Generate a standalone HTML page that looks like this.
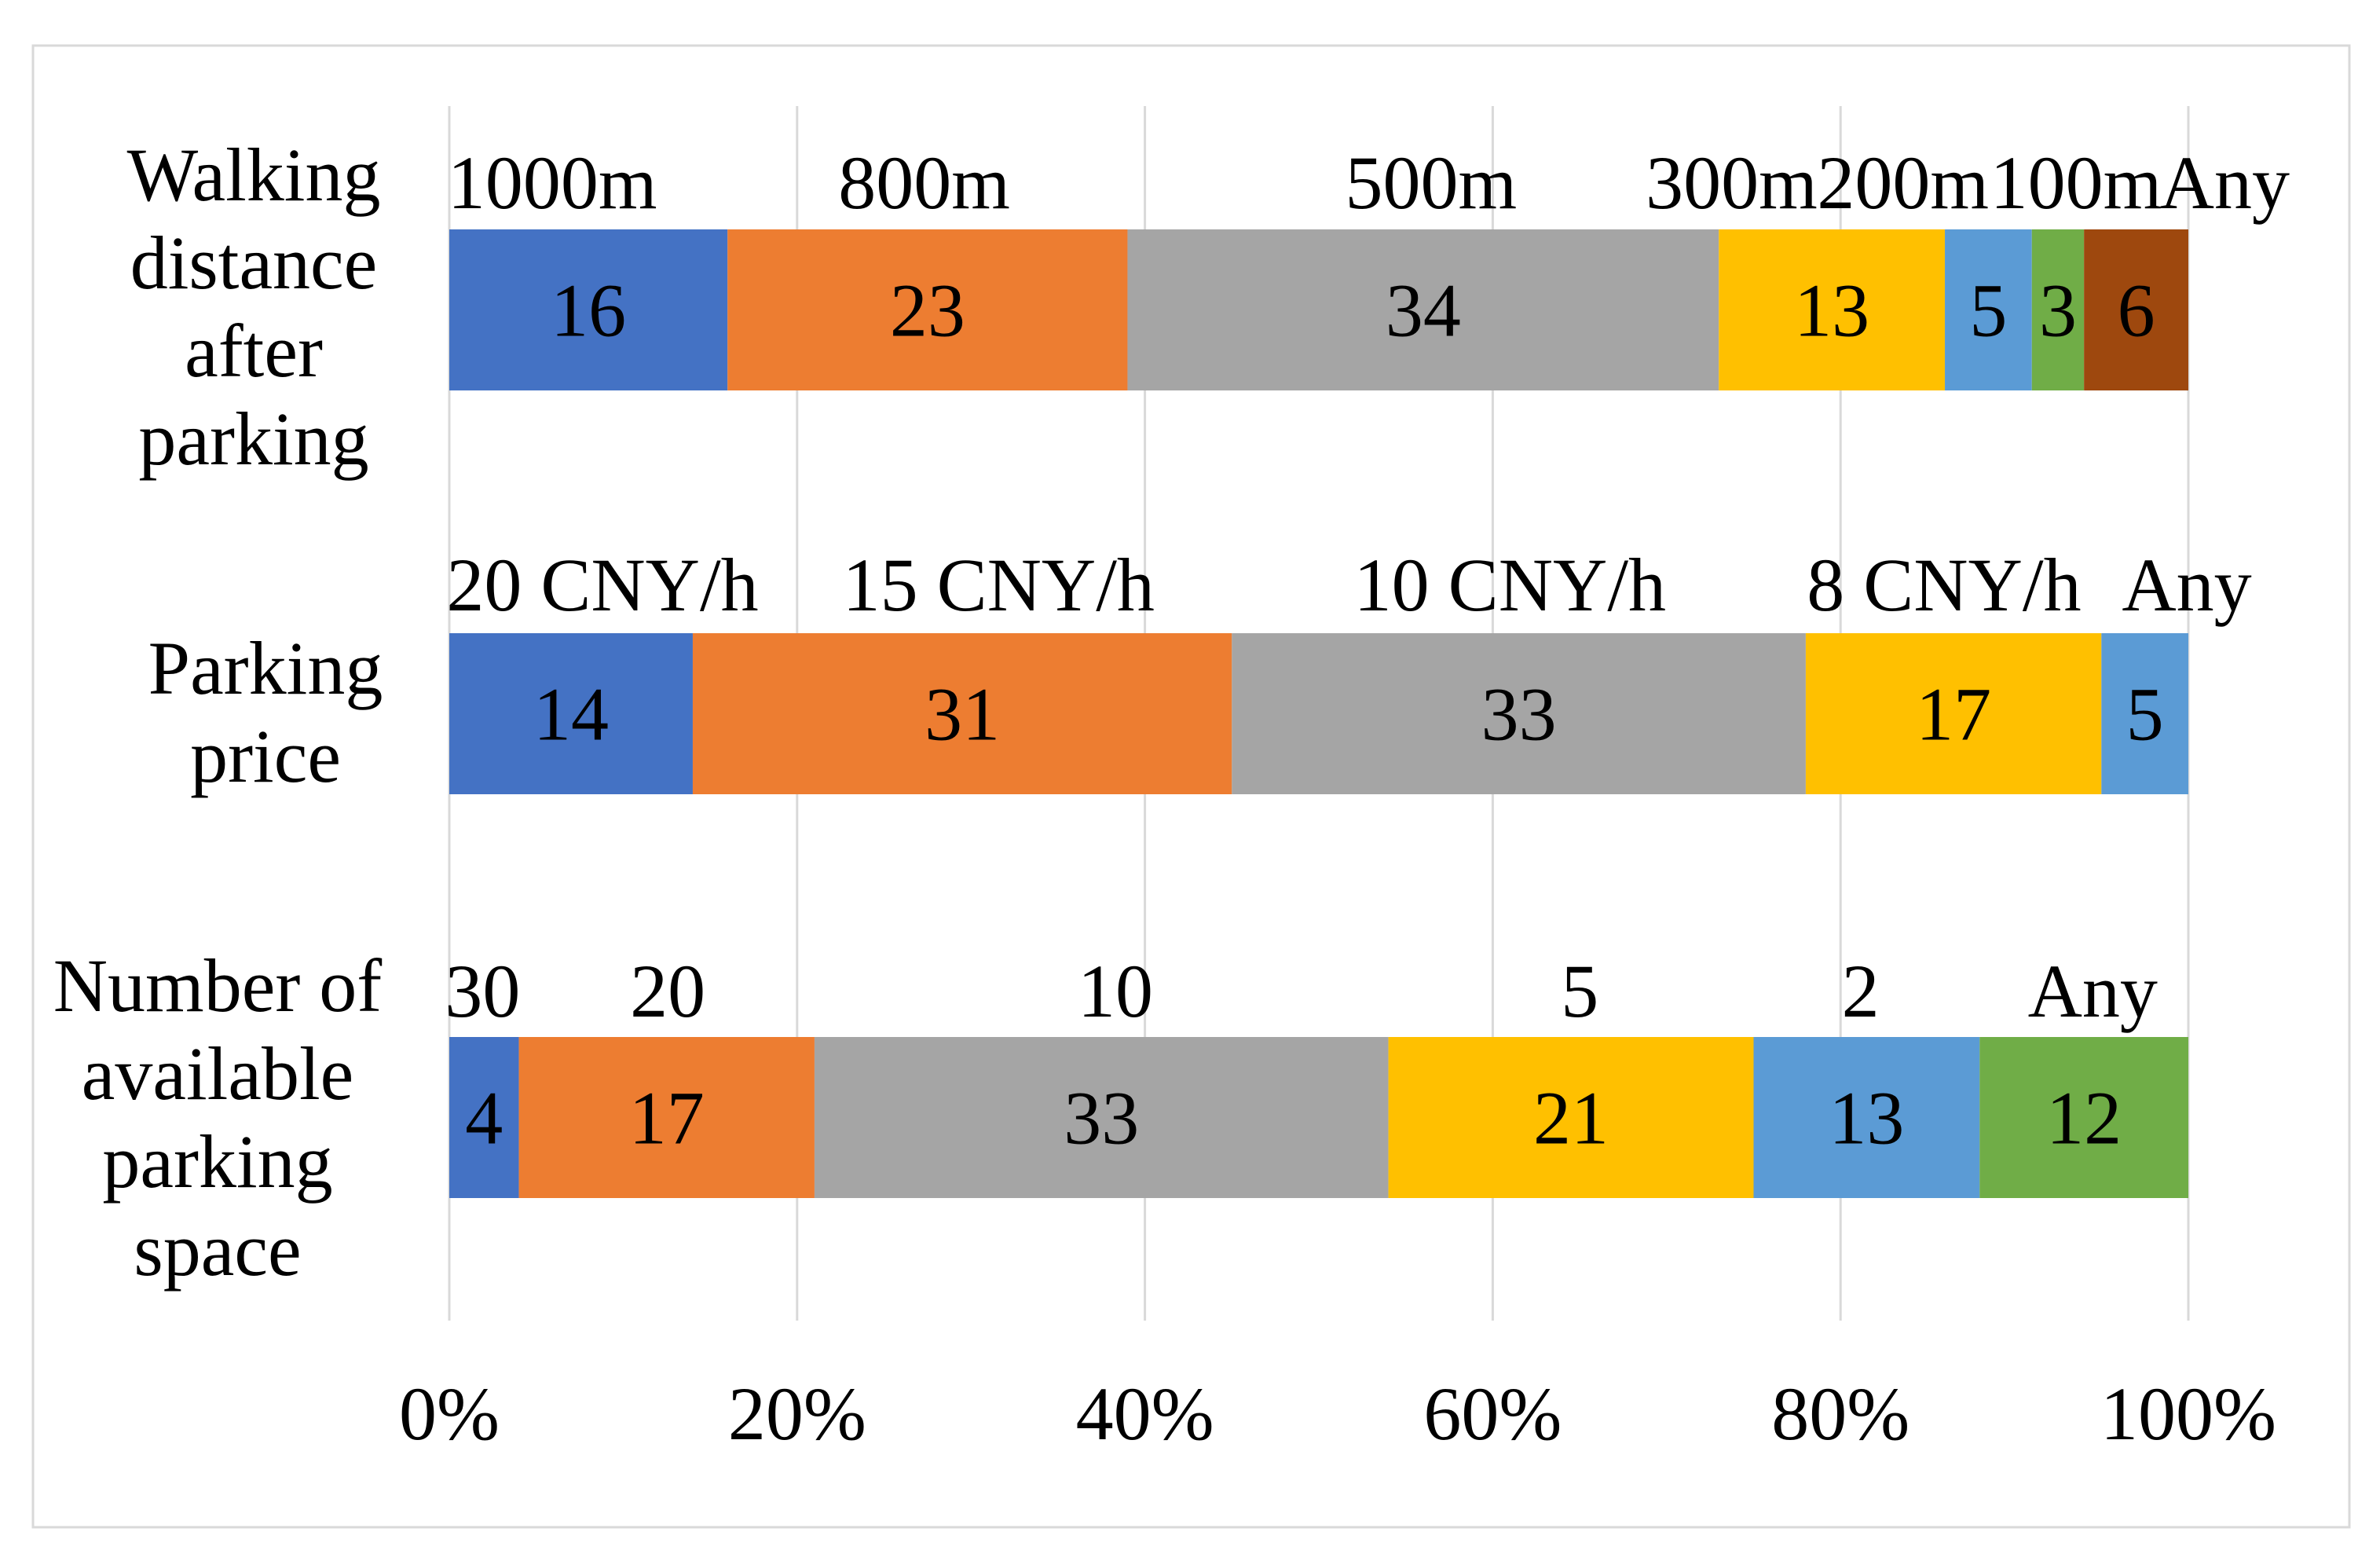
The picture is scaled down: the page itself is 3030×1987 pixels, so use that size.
<!DOCTYPE html>
<html><head><meta charset="utf-8"><style>
html,body{margin:0;padding:0;background:#fff;}
svg text{font-family:"Liberation Serif",serif;font-size:96px;fill:#000;}
</style></head><body>
<svg width="3030" height="1982" viewBox="0 0 3030 1982">
<rect x="42" y="58" width="2949" height="1886" fill="#fff" stroke="#d9d9d9" stroke-width="3"/>
<g id="grid"></g><g id="bars"></g><g id="labels"></g>
</svg>
<script>
const ticks = [0, 20, 40, 60, 80, 100];
const tickLabels = ["0%", "20%", "40%", "60%", "80%", "100%"];
const row1 = [16, 23, 34, 13, 5, 3, 6];
const row2 = [14, 31, 33, 17, 5];
const row3 = [4, 17, 33, 21, 13, 12];
const row1Names = ["1000m","800m","500m","300m","200m","100m","Any"];
const row2Names = ["20 CNY/h","15 CNY/h","10 CNY/h","8 CNY/h","Any"];
const row3Names = ["30","20","10","5","2","Any"];
const colors = ["#4472C4","#ED7D31","#A5A5A5","#FFC000","#5B9BD5","#70AD47","#9E480E"];
const NS="http://www.w3.org/2000/svg";
const X0=572, X1=2786;
function xs(p){return X0+(X1-X0)*p/100;}
function mk(tag,attrs,parent){const e=document.createElementNS(NS,tag);for(const k in attrs)e.setAttribute(k,attrs[k]);parent.appendChild(e);return e;}
const grid=document.getElementById('grid'),bars=document.getElementById('bars'),labels=document.getElementById('labels');
ticks.forEach((t,i)=>{
  const l=mk('line',{x1:xs(t),x2:xs(t),y1:135,y2:1681,stroke:'#d9d9d9','stroke-width':3},grid);
  
  
  const tx=mk('text',{x:xs(t),y:1832,'text-anchor':'middle'},grid);
  tx.textContent=tickLabels[i];
  
  
});
const rows=[
 {vals:row1,names:row1Names,y:292,nameY:265,nameX:[364,609,943,1141,1254,1368,1466]},
 {vals:row2,names:row2Names,y:806,nameY:777,nameX:[397,658,995,1281,1441]},
 {vals:row3,names:row3Names,y:1320,nameY:1294,nameX:[318,440,735,1041,1226,1379]}
];
const H=205;
rows.forEach((r,ri)=>{
  let cum=0;
  r.vals.forEach((v,i)=>{
    const x=xs(cum), w=xs(cum+v)-x;
    const rc=mk('rect',{x:x,y:r.y,width:w,height:H,fill:colors[i]},bars);
    
    
    const t=mk('text',{x:x+w/2,y:r.y+H/2+33,'text-anchor':'middle'},labels);
    t.textContent=v;
    
    
    const n=mk('text',{x:r.nameX[i]*1.932,y:r.nameY,'text-anchor':'middle'},labels);
    n.textContent=r.names[i];
    
    
    cum+=v;
  });
});
const cats=[
 {x:323,lines:["Walking","distance","after","parking"],ys:[255,367,479,591]},
 {x:338,lines:["Parking","price"],ys:[883,995]},
 {x:277,lines:["Number of","available","parking","space"],ys:[1287,1399,1511,1623]}
];
cats.forEach(c=>{
  c.lines.forEach((s,i)=>{
    const t=mk('text',{x:c.x,y:c.ys[i],'text-anchor':'middle'},labels);
    t.textContent=s;
    
    
  });
});
</script>
</body></html>
